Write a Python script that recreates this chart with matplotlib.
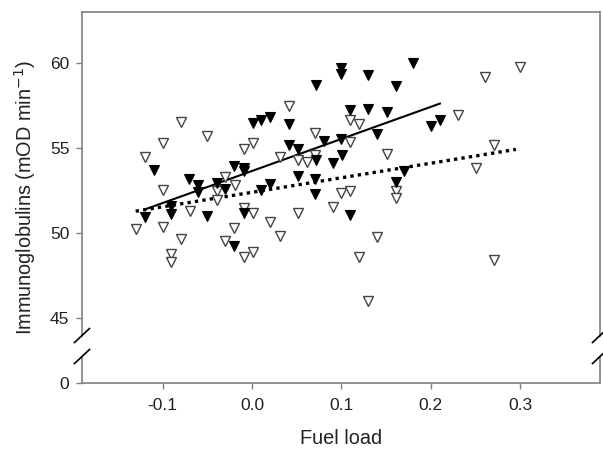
import numpy as np
import matplotlib
matplotlib.use("Agg")
import matplotlib.pyplot as plt

plt.rcParams["font.family"] = ["Liberation Sans", "DejaVu Sans"]
plt.rcParams["axes.unicode_minus"] = False

# filled triangles
filled_x = [-0.120, -0.110, -0.090, -0.090, -0.070, -0.060, -0.060, -0.050, -0.039, -0.030,
            -0.020, -0.009, -0.009, -0.009, -0.020, 0.001, 0.010, 0.020, 0.010, 0.020,
            0.041, 0.041, 0.051, 0.051, 0.071, 0.071, 0.070, 0.070, 0.080, 0.090,
            0.100, 0.100, 0.100, 0.101, 0.110, 0.110, 0.130, 0.130, 0.140, 0.151,
            0.161, 0.161, 0.170, 0.180, 0.200, 0.210]
filled_y = [50.96, 53.71, 51.61, 51.12, 53.19, 52.84, 52.45, 51.02, 52.97, 52.58,
            53.95, 53.86, 53.66, 51.17, 49.26, 56.47, 56.68, 56.86, 52.57, 52.92,
            56.41, 55.20, 54.93, 53.36, 58.71, 54.33, 53.17, 52.29, 55.45, 54.12,
            59.71, 59.34, 55.53, 54.59, 57.27, 51.08, 59.28, 57.32, 55.86, 57.11,
            58.66, 53.00, 53.66, 59.98, 56.31, 56.66]

# open triangles
open_x = [-0.130, -0.120, -0.100, -0.100, -0.100, -0.079, -0.079, -0.090, -0.090, -0.069,
          -0.050, -0.039, -0.039, -0.030, -0.030, -0.019, -0.020, -0.009, -0.009, -0.009,
          0.001, 0.001, 0.001, 0.020, 0.031, 0.031, 0.041, 0.051, 0.051, 0.061,
          0.070, 0.070, 0.091, 0.100, 0.110, 0.110, 0.110, 0.120, 0.120, 0.130,
          0.140, 0.151, 0.161, 0.161, 0.230, 0.250, 0.260, 0.270, 0.270, 0.300]
open_y = [50.23, 54.48, 55.31, 52.53, 50.37, 56.56, 49.65, 48.81, 48.34, 51.29,
          55.71, 52.47, 51.96, 53.30, 49.55, 52.86, 50.32, 54.97, 51.46, 48.63,
          55.31, 51.20, 48.93, 50.69, 54.51, 49.85, 57.46, 54.33, 51.21, 54.18,
          54.58, 55.88, 51.53, 52.37, 56.64, 55.38, 52.48, 56.41, 48.63, 46.04,
          49.79, 54.67, 52.50, 52.09, 56.95, 53.85, 59.16, 55.18, 48.44, 59.78]

# fitted lines (end points)
fit_filled_x = [-0.120, 0.210]
fit_filled_y = [51.40, 57.62]
fit_open_x = [-0.130, 0.295]
fit_open_y = [51.30, 54.93]

xticks = [-0.1, 0.0, 0.1, 0.2, 0.3]
yticks_top = [45, 50, 55, 60]

W, H = 603, 454
fig = plt.figure(figsize=(W / 100, H / 100), dpi=100)

left, right = 82 / W, 600 / W
ax = fig.add_axes([left, 1 - 335.5 / H, right - left, (335.5 - 12) / H])
axb = fig.add_axes([left, 1 - 383 / H, right - left, (383 - 356.5) / H])

spine_c = "#808080"
txt_c = "#222222"

ax.plot(fit_open_x, fit_open_y, color="black", lw=2.4, dashes=(1, 1.25),
        dash_capstyle="butt", zorder=2)
ax.plot(fit_filled_x, fit_filled_y, color="black", lw=1.5, zorder=2)
ax.plot(open_x, open_y, "v", ms=7.2, mfc="white", mec="#444444", mew=1.0,
        ls="none", zorder=3)
ax.plot(filled_x, filled_y, "v", ms=7.2, mfc="black", mec="black", mew=0.8,
        ls="none", zorder=4)

xlim = (-0.19, 0.389)
ax.set_xlim(*xlim)
ax.set_ylim(44, 63)
ax.set_yticks(yticks_top)
ax.set_xticks([])
ax.spines["bottom"].set_visible(False)

axb.set_xlim(*xlim)
axb.set_ylim(0, 1)
axb.set_yticks([0])
axb.set_xticks(xticks)
axb.set_xticklabels([f"{t:.1f}" for t in xticks])
axb.spines["top"].set_visible(False)

for a in (ax, axb):
    for s in a.spines.values():
        s.set_color(spine_c)
        s.set_linewidth(1.2)
    a.tick_params(direction="out", length=4, width=1, color=spine_c,
                  labelsize=12.5, labelcolor=txt_c)
    a.tick_params(axis="y", pad=5)
    a.tick_params(axis="x", pad=7)
    a.patch.set_alpha(0)

# break marks
for xp in (82, 600):
    for yc in (335.5, 356.5):
        fig.add_artist(plt.Line2D([(xp - 7.5) / W, (xp + 7.5) / W],
                                  [1 - (yc + 7) / H, 1 - (yc - 7) / H],
                                  transform=fig.transFigure, color="black", lw=1.2))

fig.text(341 / W, 1 - 439 / H, "Fuel load", ha="center", va="center",
         fontsize=14.3, color=txt_c)
fig.text(25 / W, 1 - 197 / H, "Immunoglobulins (mOD min$^{-1}$)", rotation=90,
         ha="center", va="center", fontsize=14.3, color=txt_c)

fig.savefig("out.png", dpi=100)
